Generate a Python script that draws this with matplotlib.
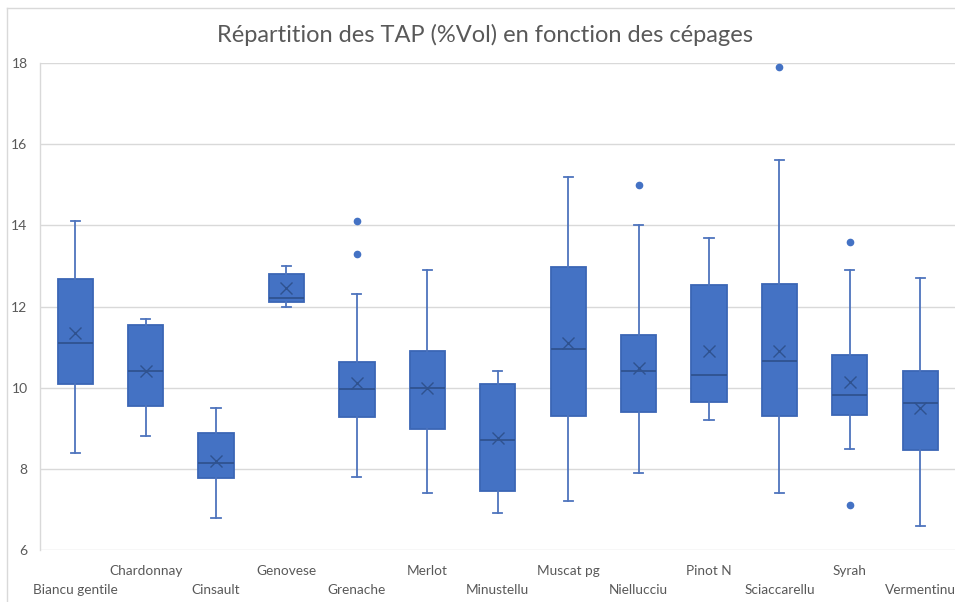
import matplotlib
matplotlib.use("Agg")
import matplotlib.pyplot as plt
from matplotlib.lines import Line2D

categories = ["Biancu gentile", "Chardonnay", "Cinsault", "Genovese", "Grenache",
              "Merlot", "Minustellu", "Muscat pg", "Niellucciu", "Pinot N",
              "Sciaccarellu", "Syrah", "Vermentinu"]
whisker_low = [8.4, 8.8, 6.8, 12.0, 7.8, 7.4, 6.9, 7.2, 7.9, 9.2, 7.4, 8.5, 6.6]
q1 = [10.1, 9.55, 7.78, 12.1, 9.28, 8.97, 7.46, 9.31, 9.39, 9.64, 9.29, 9.32, 8.47]
median = [11.1, 10.4, 8.15, 12.2, 9.96, 10.0, 8.72, 10.95, 10.4, 10.3, 10.65, 9.81, 9.62]
mean = [11.34, 10.42, 8.2, 12.45, 10.12, 9.98, 8.76, 11.1, 10.48, 10.91, 10.91, 10.13, 9.5]
q3 = [12.67, 11.55, 8.88, 12.8, 10.64, 10.9, 10.1, 12.97, 11.3, 12.54, 12.56, 10.81, 10.4]
whisker_high = [14.1, 11.7, 9.5, 13.0, 12.3, 12.9, 10.4, 15.18, 14.0, 13.7, 15.6, 12.91, 12.7]
outliers = [[], [], [], [], [14.1, 13.3], [], [], [], [15.0], [], [17.9], [13.6, 7.1], []]
y_ticks = [6, 8, 10, 12, 14, 16, 18]
title = "Répartition des TAP (%Vol) en fonction des cépages"

plt.rcParams['font.family'] = ['Lato', 'DejaVu Sans']

fig = plt.figure(figsize=(9.55, 6.02), dpi=100)
W, H = 955, 602
ax = fig.add_axes([40 / W, 1 - 550 / H, (955.5 - 40) / W, (550 - 63) / H])

stats = []
for i, c in enumerate(categories):
    stats.append(dict(label=c, whislo=whisker_low[i], q1=q1[i], med=median[i],
                      mean=mean[i], q3=q3[i], whishi=whisker_high[i],
                      fliers=outliers[i]))

blue = "#4472C4"
positions = list(range(len(categories)))
ax.bxp(stats, positions=positions, widths=0.5, capwidths=0.13,
       showmeans=True, patch_artist=True, manage_ticks=False,
       boxprops=dict(facecolor=blue, edgecolor="#3B66B5", linewidth=1.3),
       medianprops=dict(color="#2F528F", linewidth=1.3),
       whiskerprops=dict(color="#4E74BD", linewidth=1.3),
       capprops=dict(color="#4E74BD", linewidth=1.3),
       meanprops=dict(marker="x", markeredgecolor="#2F528F", markersize=8,
                      markeredgewidth=1.0),
       flierprops=dict(marker="o", markerfacecolor=blue, markeredgecolor=blue,
                       markersize=4.5))

ax.set_xlim(-0.5, len(categories) - 0.5)
ax.set_ylim(6, 18)
ax.set_yticks(y_ticks)
ax.set_yticklabels([str(v) for v in y_ticks])
ax.yaxis.grid(True, color="#D9D9D9", linewidth=1.0)
ax.set_axisbelow(True)
for s in ["top", "right", "bottom"]:
    ax.spines[s].set_visible(False)
ax.spines["left"].set_color("#D9D9D9")
ax.spines["left"].set_linewidth(1.0)

odd_pos = [p for p in positions if p % 2 == 1]
even_pos = [p for p in positions if p % 2 == 0]
ax.set_xticks(odd_pos)
ax.set_xticklabels([categories[p] for p in odd_pos])
ax.set_xticks(even_pos, minor=True)
ax.set_xticklabels([categories[p] for p in even_pos], minor=True)
ax.tick_params(axis="x", which="major", length=0, pad=10.5, labelsize=9.8, labelcolor="#595959")
ax.tick_params(axis="x", which="minor", length=0, pad=24.5, labelsize=9.8, labelcolor="#595959")
ax.tick_params(axis="y", length=0, pad=9, labelsize=10, labelcolor="#595959")

fig.text(485 / W, 1 - 35 / H, title, ha="center", va="center", fontsize=17, color="#595959")

fig.add_artist(Line2D([7 / W, 7 / W], [1 - 8 / H, 0], color="#D9D9D9", linewidth=1.0))
fig.add_artist(Line2D([7 / W, 1], [1 - 8 / H, 1 - 8 / H], color="#D9D9D9", linewidth=1.0))

fig.savefig("out.png", dpi=100)
